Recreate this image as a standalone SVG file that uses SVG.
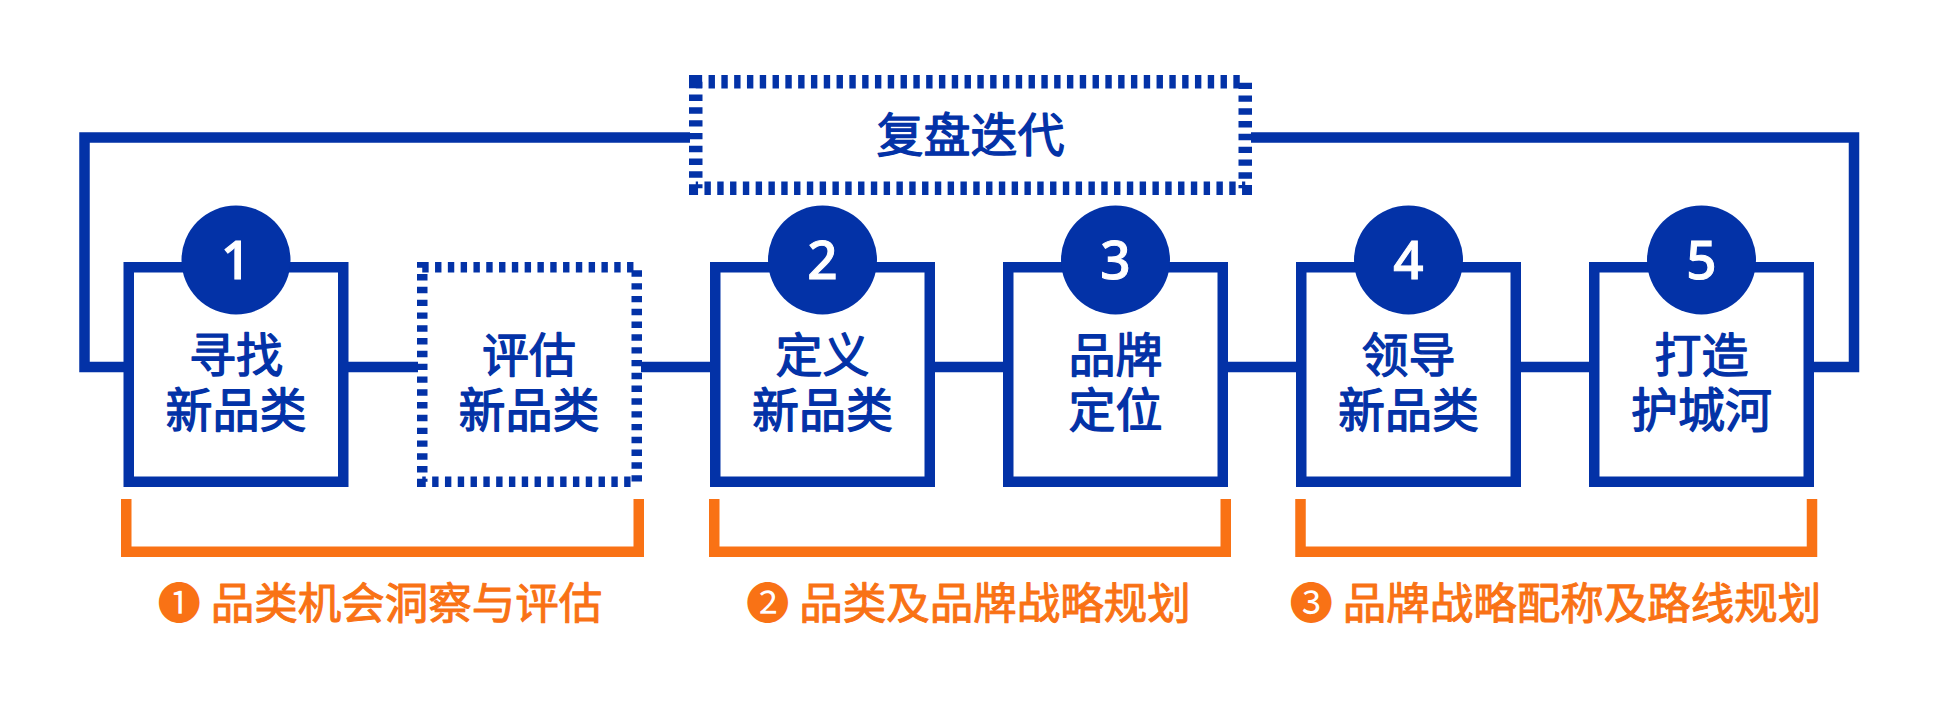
<svg xmlns="http://www.w3.org/2000/svg" width="1941" height="709" viewBox="0 0 1941 709">
<style>
.conn{fill:none;stroke:#0332A7;stroke-width:10.5}
.box{fill:#fff;stroke:#0332A7;stroke-width:10.5}
.dot{fill:#fff;stroke:#0332A7;stroke-width:10.5;stroke-dasharray:6.4 6.4}
.dotbig{fill:#fff;stroke:#0332A7;stroke-width:13.5;stroke-dasharray:6.4 6.4}
.badge{fill:#0332A7}
.num{font-family:"Noto Sans","Liberation Sans",sans-serif;font-size:53px;font-weight:500;fill:#fff;stroke:#fff;stroke-width:1;text-anchor:middle}
.lbl{font-family:"Noto Sans CJK SC","Noto Sans CJK JP",sans-serif;font-size:47px;font-weight:400;fill:#0332A7;stroke:#0332A7;stroke-width:1.3;stroke-linejoin:round;text-anchor:middle}
.brk{fill:none;stroke:#F97215;stroke-width:10.5}
.phase{font-family:"Noto Sans CJK SC","Noto Sans CJK JP",sans-serif;font-size:43.5px;font-weight:400;fill:#F97215;stroke:#F97215;stroke-width:1;stroke-linejoin:round}
.cn{stroke:none}
</style>
<rect width="1941" height="709" fill="#fff"/>
<g id="connectors">
<path class="conn" d="M124,367 H84.5 V137.5 H690"/>
<path class="conn" d="M1251,137.5 H1854 V367 H1814"/>
<path class="conn" d="M348,367 H418"/>
<path class="conn" d="M641,367 H711"/>
<path class="conn" d="M934,367 H1004"/>
<path class="conn" d="M1227,367 H1297"/>
<path class="conn" d="M1520,367 H1590"/>
</g>
<g id="review">
<rect class="dotbig" x="695.75" y="81.75" width="549.5" height="106.5"/>
<text class="lbl" x="970.5" y="151.5">复盘迭代</text>
</g>
<g id="step1">
<rect class="box" x="128.75" y="267.25" width="214.5" height="214.5"/>
<circle class="badge" cx="236" cy="260" r="54.5"/>
<text class="num" x="236" y="278.5">1</text>
<text class="lbl" x="236" y="372">寻找<tspan x="236" dy="55">新品类</tspan></text>
</g>
<g id="evaluate">
<rect class="dot" x="422.25" y="267.25" width="214.5" height="214.5"/>
<text class="lbl" x="529" y="372">评估<tspan x="529" dy="55">新品类</tspan></text>
</g>
<g id="step2">
<rect class="box" x="715.25" y="267.25" width="214.5" height="214.5"/>
<circle class="badge" cx="822.5" cy="260" r="54.5"/>
<text class="num" x="822.5" y="278.5">2</text>
<text class="lbl" x="822.5" y="372">定义<tspan x="822.5" dy="55">新品类</tspan></text>
</g>
<g id="step3">
<rect class="box" x="1008.25" y="267.25" width="214.5" height="214.5"/>
<circle class="badge" cx="1115.5" cy="260" r="54.5"/>
<text class="num" x="1115.5" y="278.5">3</text>
<text class="lbl" x="1115.5" y="372">品牌<tspan x="1115.5" dy="55">定位</tspan></text>
</g>
<g id="step4">
<rect class="box" x="1301.25" y="267.25" width="214.5" height="214.5"/>
<circle class="badge" cx="1408.5" cy="260" r="54.5"/>
<text class="num" x="1408.5" y="278.5">4</text>
<text class="lbl" x="1408.5" y="372">领导<tspan x="1408.5" dy="55">新品类</tspan></text>
</g>
<g id="step5">
<rect class="box" x="1594.25" y="267.25" width="214.5" height="214.5"/>
<circle class="badge" cx="1701.5" cy="260" r="54.5"/>
<text class="num" x="1701.5" y="278.5">5</text>
<text class="lbl" x="1701.5" y="372">打造<tspan x="1701.5" dy="55">护城河</tspan></text>
</g>
<g id="phase1">
<path class="brk" d="M126.25,499 V551.75 H638.75 V499"/>
<text class="phase" x="157.5" y="619"><tspan class="cn">❶</tspan> 品类机会洞察与评估</text>
</g>
<g id="phase2">
<path class="brk" d="M714.25,499 V551.75 H1225.75 V499"/>
<text class="phase" x="746" y="619"><tspan class="cn">❷</tspan> 品类及品牌战略规划</text>
</g>
<g id="phase3">
<path class="brk" d="M1300.5,499 V551.75 H1812 V499"/>
<text class="phase" x="1289.5" y="619"><tspan class="cn">❸</tspan> 品牌战略配称及路线规划</text>
</g>
</svg>
